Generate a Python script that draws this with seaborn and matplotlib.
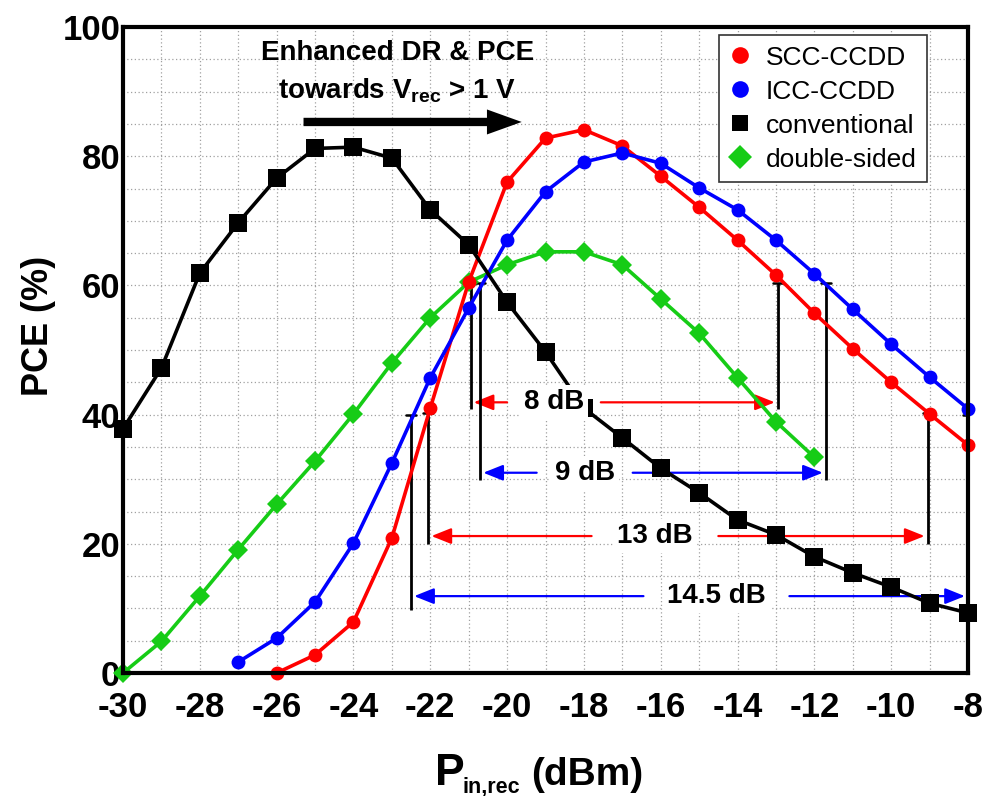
import numpy as np
import pandas as pd
import matplotlib
matplotlib.use("Agg")
import matplotlib.pyplot as plt
from matplotlib.lines import Line2D
from matplotlib.ticker import MultipleLocator
import seaborn as sns

# ---- measured PCE (%) versus received input power (dBm) ----
pin_scc = [-26, -25, -24, -23, -22, -21, -20, -19, -18, -17, -16, -15, -14, -13, -12, -11, -10, -9, -8]
pce_scc = [0.0, 2.8, 7.9, 20.9, 41.0, 60.5, 76.0, 82.8, 84.1, 81.6, 76.9, 72.1, 67.0, 61.6, 55.7, 50.2, 45.0, 40.1, 35.3]

pin_icc = [-27, -26, -25, -24, -23, -22, -21, -20, -19, -18, -17, -16, -15, -14, -13, -12, -11, -10, -9, -8]
pce_icc = [1.7, 5.4, 11.0, 20.1, 32.5, 45.7, 56.5, 67.0, 74.5, 79.1, 80.5, 78.9, 75.1, 71.7, 67.0, 61.8, 56.3, 50.9, 45.8, 40.9]

pin_conv = [-30, -29, -28, -27, -26, -25, -24, -23, -22, -21, -20, -19, -18, -17, -16, -15, -14, -13, -12, -11, -10, -9, -8]
pce_conv = [37.8, 47.2, 61.9, 69.7, 76.6, 81.2, 81.4, 79.7, 71.7, 66.3, 57.4, 49.7, 41.0, 36.4, 31.7, 27.9, 23.7, 21.4, 18.0, 15.5, 13.3, 10.8, 9.3]

pin_ds = [-30, -29, -28, -27, -26, -25, -24, -23, -22, -21, -20, -19, -18, -17, -16, -15, -14, -13, -12]
pce_ds = [0.0, 4.9, 11.9, 19.1, 26.1, 32.8, 40.1, 48.0, 55.0, 60.5, 63.2, 65.2, 65.2, 63.2, 57.9, 52.6, 45.7, 38.9, 33.4]

series_names = ["SCC-CCDD", "ICC-CCDD", "conventional", "double-sided"]
series_colors = ["#ff0000", "#0000ff", "#000000", "#16cc16"]
series_markers = ["o", "o", "s", "D"]
series_msize = [10, 10, 13, 10.5]
series_layer = [3.1, 3.2, 3.3, 3.0]

# ---- dynamic-range annotations ----
range_labels = ["8 dB", "9 dB", "13 dB", "14.5 dB"]
range_widths = [8.0, 9.0, 13.0, 14.5]
range_starts = [-20.95, -20.7, -22.05, -22.5]
range_levels = [60.4, 60.4, 40.2, 40.0]
range_colors = ["#ff0000", "#0000ff", "#ff0000", "#0000ff"]
range_text_x = [-18.78, -17.98, -16.15, -14.55]

x_ticks = list(range(-30, -7, 2))
y_ticks = list(range(0, 101, 20))

# ---- style ----
sns.set_style("white")
plt.rcParams["font.family"] = ["Liberation Sans", "DejaVu Sans"]
plt.rcParams["mathtext.fontset"] = "custom"
plt.rcParams["mathtext.rm"] = "Liberation Sans"
plt.rcParams["mathtext.bf"] = "Liberation Sans:bold"
for key in ["text.color", "axes.labelcolor", "xtick.color", "ytick.color"]:
    plt.rcParams[key] = "black"

W, H = 982, 796
fig = plt.figure(figsize=(W / 100, H / 100), dpi=100)
fig.patch.set_facecolor("white")
ax = fig.add_axes([123 / W, 1 - 673 / H, 845 / W, 646 / H])

frames = []
for name, xs, ys in zip(series_names,
                        [pin_scc, pin_icc, pin_conv, pin_ds],
                        [pce_scc, pce_icc, pce_conv, pce_ds]):
    frames.append(pd.DataFrame({"Pin": xs, "PCE": ys, "series": name}))
data = pd.concat(frames, ignore_index=True)

for name, col, mk, ms, zo in zip(series_names, series_colors, series_markers,
                                 series_msize, series_layer):
    sub = data[data["series"] == name]
    sns.lineplot(data=sub, x="Pin", y="PCE", ax=ax, color=col, marker=mk,
                 markersize=ms, markeredgewidth=0, linewidth=2.6,
                 legend=False, zorder=zo, clip_on=False)

# dynamic-range markers: vertical bars, capped tops, split arrows with label
bottom_offsets = [19.5, 30.5, 20.2, 30.2]
arrow_drop = [18.5, 29.4, 19.0, 28.1]
gap_half = [1.22, 1.25, 1.65, 1.9]
for lab, w, x0, lev, col, xc, bo, ad, gh in zip(range_labels, range_widths, range_starts,
                                                range_levels, range_colors, range_text_x,
                                                bottom_offsets, arrow_drop, gap_half):
    x1 = x0 + w
    ybot = lev - bo
    yarr = lev - ad
    for xv in (x0, x1):
        ax.plot([xv, xv], [lev, ybot], color="black", lw=2.0, zorder=2.5,
                solid_capstyle="butt")
        ax.plot([xv - 0.13, xv + 0.13], [lev, lev], color="black", lw=1.8, zorder=2.5)
    arrow_kw = dict(arrowstyle="-|>,head_length=0.75,head_width=0.3",
                    color=col, lw=1.6, mutation_scale=16,
                    shrinkA=0, shrinkB=0)
    ax.annotate("", xy=(x0 + 0.08, yarr), xytext=(xc - gh, yarr),
                arrowprops=arrow_kw, zorder=1.8)
    ax.annotate("", xy=(x1 - 0.08, yarr), xytext=(xc + gh, yarr),
                arrowprops=arrow_kw, zorder=1.8)
    ax.text(xc, yarr, lab, ha="center", va="center", fontsize=20,
            fontweight="bold", color="black", zorder=5,
            bbox=dict(facecolor="white", edgecolor="none", pad=3))

# headline annotation with trend arrow
ax.text(-22.86, 96.0, "Enhanced DR & PCE", ha="center", va="center",
        fontsize=20, fontweight="bold", zorder=5)
ax.text(-22.86, 90.2, r"towards $\mathbf{V_{rec}}$ > 1 V", ha="center",
        va="center", fontsize=20, fontweight="bold", zorder=5)
ax.annotate("", xy=(-19.62, 85.3), xytext=(-25.3, 85.3),
            arrowprops=dict(arrowstyle="simple,head_length=2.5,head_width=1.8,tail_width=0.6",
                            color="black", lw=0, mutation_scale=10,
                            shrinkA=0, shrinkB=0),
            zorder=5)

# axes, ticks and grid
ax.set_xlim(-30, -8)
ax.set_ylim(0, 100)
ax.set_xticks(x_ticks)
ax.set_yticks(y_ticks)
ax.xaxis.set_minor_locator(MultipleLocator(1))
ax.yaxis.set_minor_locator(MultipleLocator(5))
ax.set_xticklabels([str(t) for t in x_ticks])
ax.set_yticklabels([str(t) for t in y_ticks])
ax.grid(which="both", color="#a0a0a0", linestyle=(0, (1, 2)), linewidth=0.9, zorder=0)
ax.set_axisbelow(True)
for sp in ax.spines.values():
    sp.set_linewidth(3)
    sp.set_color("black")
    sp.set_zorder(4)
ax.tick_params(axis="both", which="major", direction="in", length=12, width=2.6,
               labelsize=25, colors="black")
ax.tick_params(axis="both", which="minor", direction="in", length=8, width=2.2)
ax.tick_params(axis="x", which="major", pad=13)
ax.tick_params(axis="y", which="major", pad=2)
for lbl in ax.get_xticklabels() + ax.get_yticklabels():
    lbl.set_fontweight("bold")
ax.set_xlabel("")
ax.set_ylabel("")

# legend with marker-only entries
handles = [Line2D([], [], linestyle="none", marker=mk, color=c, markersize=s,
                  markeredgewidth=0)
           for mk, c, s in zip(series_markers, series_colors, [12, 12, 11, 12.5])]
leg = ax.legend(handles, series_names, loc="upper right",
                bbox_to_anchor=((927 - 123) / 845, (673 - 35) / 646),
                borderaxespad=0, frameon=True, fancybox=False, fontsize=19,
                handlelength=0.8, handletextpad=0.55, labelspacing=0.38,
                borderpad=0.4, framealpha=1)
leg.get_frame().set_edgecolor("#333333")
leg.get_frame().set_linewidth(1.2)
leg.set_zorder(6)

# axis titles
fig.text(38 / W, 1 - 326 / H, "PCE (%)", rotation=90, ha="center", va="center",
         fontsize=26, fontweight="bold")
fig.text(435 / W, 1 - 785 / H, "P", ha="left", va="baseline",
         fontsize=32, fontweight="bold")
fig.text(463 / W, 1 - 792 / H, "in,rec", ha="left", va="baseline",
         fontsize=15.5, fontweight="bold")
fig.text(531 / W, 1 - 785 / H, "(dBm)", ha="left", va="baseline",
         fontsize=28, fontweight="bold")

fig.savefig("out.png", dpi=100, facecolor="white")
